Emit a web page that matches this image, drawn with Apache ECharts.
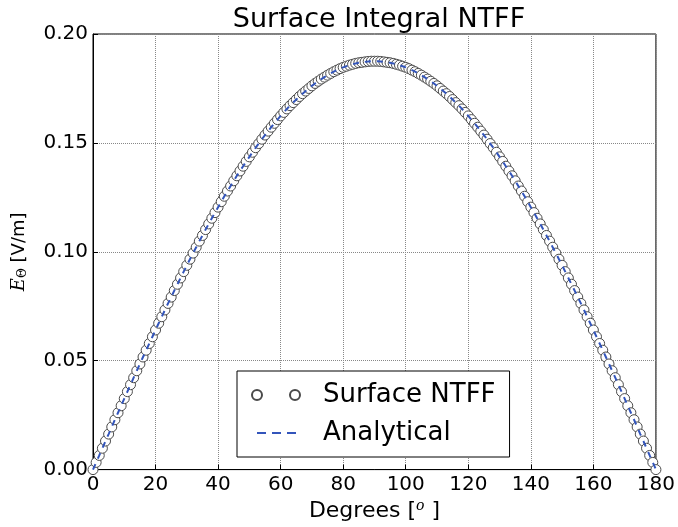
<!DOCTYPE html>
<html>
<head>
<meta charset="utf-8">
<script src="https://cdn.jsdelivr.net/npm/echarts@6/dist/echarts.min.js"></script>
<style>
  html, body { margin: 0; padding: 0; background: #fff; }
  #chart { width: 678px; height: 527px; }
</style>
</head>
<body>
<div id="chart"></div>
<script>
// 数据：0..180 度，每 1 度一个点
const surfaceNtff = [
  0.0000, 0.0033, 0.0065, 0.0098, 0.0131, 0.0163, 0.0196, 0.0229, 0.0261, 0.0293,
  0.0326, 0.0358, 0.0390, 0.0422, 0.0454, 0.0485, 0.0517, 0.0548, 0.0579, 0.0610,
  0.0641, 0.0672, 0.0702, 0.0733, 0.0763, 0.0792, 0.0822, 0.0851, 0.0880, 0.0909,
  0.0938, 0.0966, 0.0994, 0.1021, 0.1049, 0.1075, 0.1102, 0.1128, 0.1154, 0.1180,
  0.1205, 0.1230, 0.1255, 0.1279, 0.1302, 0.1326, 0.1349, 0.1371, 0.1393, 0.1415,
  0.1436, 0.1457, 0.1478, 0.1497, 0.1517, 0.1536, 0.1554, 0.1572, 0.1590, 0.1607,
  0.1624, 0.1640, 0.1656, 0.1671, 0.1685, 0.1699, 0.1713, 0.1726, 0.1738, 0.1750,
  0.1762, 0.1773, 0.1783, 0.1793, 0.1802, 0.1811, 0.1819, 0.1827, 0.1834, 0.1841,
  0.1847, 0.1852, 0.1857, 0.1861, 0.1865, 0.1868, 0.1870, 0.1872, 0.1874, 0.1875,
  0.1875,
  0.1875, 0.1874, 0.1872, 0.1870, 0.1868, 0.1865, 0.1861, 0.1857, 0.1852, 0.1847,
  0.1841, 0.1834, 0.1827, 0.1819, 0.1811, 0.1802, 0.1793, 0.1783, 0.1773, 0.1762,
  0.1750, 0.1738, 0.1726, 0.1713, 0.1699, 0.1685, 0.1671, 0.1656, 0.1640, 0.1624,
  0.1607, 0.1590, 0.1572, 0.1554, 0.1536, 0.1517, 0.1497, 0.1478, 0.1457, 0.1436,
  0.1415, 0.1393, 0.1371, 0.1349, 0.1326, 0.1302, 0.1279, 0.1255, 0.1230, 0.1205,
  0.1180, 0.1154, 0.1128, 0.1102, 0.1075, 0.1049, 0.1021, 0.0994, 0.0966, 0.0938,
  0.0909, 0.0880, 0.0851, 0.0822, 0.0792, 0.0763, 0.0733, 0.0702, 0.0672, 0.0641,
  0.0610, 0.0579, 0.0548, 0.0517, 0.0485, 0.0454, 0.0422, 0.0390, 0.0358, 0.0326,
  0.0293, 0.0261, 0.0229, 0.0196, 0.0163, 0.0131, 0.0098, 0.0065, 0.0033, 0.0000
];
// 解析解与数值结果在图上重合
const analytical = surfaceNtff.slice();

const xTicks = [0, 20, 40, 60, 80, 100, 120, 140, 160, 180];
const yTicks = [0.00, 0.05, 0.10, 0.15, 0.20];

const font = 'DejaVu Sans';
const chart = echarts.init(document.getElementById('chart'));

const option = {
  animation: false,
  backgroundColor: '#fff',
  title: {
    text: 'Surface Integral NTFF',
    left: 374, top: 1, textAlign: 'center',
    textStyle: { fontFamily: font, fontSize: 27, fontWeight: 'normal', color: '#000' }
  },
  grid: {
    left: 93, right: 22, top: 34, bottom: 57,
    show: true, borderColor: '#000', borderWidth: 1, backgroundColor: 'transparent'
  },
  legend: {
    orient: 'vertical',
    left: 237, top: 371,
    padding: [11, 14, 11, 14],
    itemGap: 12,
    itemWidth: 48, itemHeight: 10,
    borderColor: '#000', borderWidth: 1,
    backgroundColor: '#fff',
    textStyle: { fontFamily: font, fontSize: 26, color: '#000', padding: [0, 0, 0, 18] },
    data: [
      { name: 'Surface NTFF', icon: 'path://M0,5a5,5 0 1,0 10,0a5,5 0 1,0 -10,0M38,5a5,5 0 1,0 10,0a5,5 0 1,0 -10,0' },
      { name: 'Analytical', icon: 'path://M0,0L0,0M5,4h9v2h-9zM20,4h9v2h-9zM35,4h9v2h-9zM48,10L48,10' }
    ]
  },
  xAxis: {
    type: 'value', min: xTicks[0], max: xTicks[xTicks.length - 1], interval: 20,
    name: 'Degrees [{sup|o} ]', nameLocation: 'middle', nameGap: 27,
    nameTextStyle: {
      fontFamily: font, fontSize: 22, color: '#000',
      rich: { sup: { fontFamily: 'DejaVu Serif', fontStyle: 'italic', fontSize: 14, verticalAlign: 'top', padding: [0, 0, 9, 0] } }
    },
    axisLine: { show: true, lineStyle: { color: '#000' } },
    axisTick: { inside: true, length: 5, lineStyle: { color: '#000' } },
    axisLabel: { fontFamily: font, fontSize: 20, color: '#000', margin: 5 },
    splitLine: { show: true, lineStyle: { color: '#888', type: 'dotted', width: 1 } }
  },
  yAxis: {
    type: 'value', min: yTicks[0], max: yTicks[yTicks.length - 1], interval: 0.05,
    name: '{e|E}{sub|Θ} [V/m]', nameLocation: 'middle', nameGap: 64,
    nameTextStyle: {
      fontFamily: font, fontSize: 18, color: '#000',
      rich: {
        e: { fontFamily: 'DejaVu Serif', fontStyle: 'italic', fontSize: 18 },
        sub: { fontFamily: 'DejaVu Serif', fontSize: 12, verticalAlign: 'bottom', padding: [8, 0, 0, 0] }
      }
    },
    axisLine: { show: true, lineStyle: { color: '#000' } },
    axisTick: { inside: true, length: 5, lineStyle: { color: '#000' } },
    axisLabel: {
      fontFamily: font, fontSize: 20, color: '#000', margin: 5,
      formatter: v => v.toFixed(2)
    },
    splitLine: { show: true, lineStyle: { color: '#888', type: 'dotted', width: 1 } }
  },
  series: [
    {
      name: 'Surface NTFF',
      type: 'scatter',
      data: surfaceNtff.map((v, i) => [i, v]),
      symbol: 'circle',
      symbolSize: 10,
      itemStyle: { color: '#fff', borderColor: '#4a4a4a', borderWidth: 1, opacity: 1 },
      z: 2
    },
    {
      name: 'Analytical',
      type: 'line',
      data: analytical.map((v, i) => [i, v]),
      symbol: 'none',
      lineStyle: { color: '#3355bb', width: 2, type: [6, 6] },
      itemStyle: { color: '#3355bb' },
      z: 3
    }
  ]
};

chart.setOption(option);
</script>
</body>
</html>
